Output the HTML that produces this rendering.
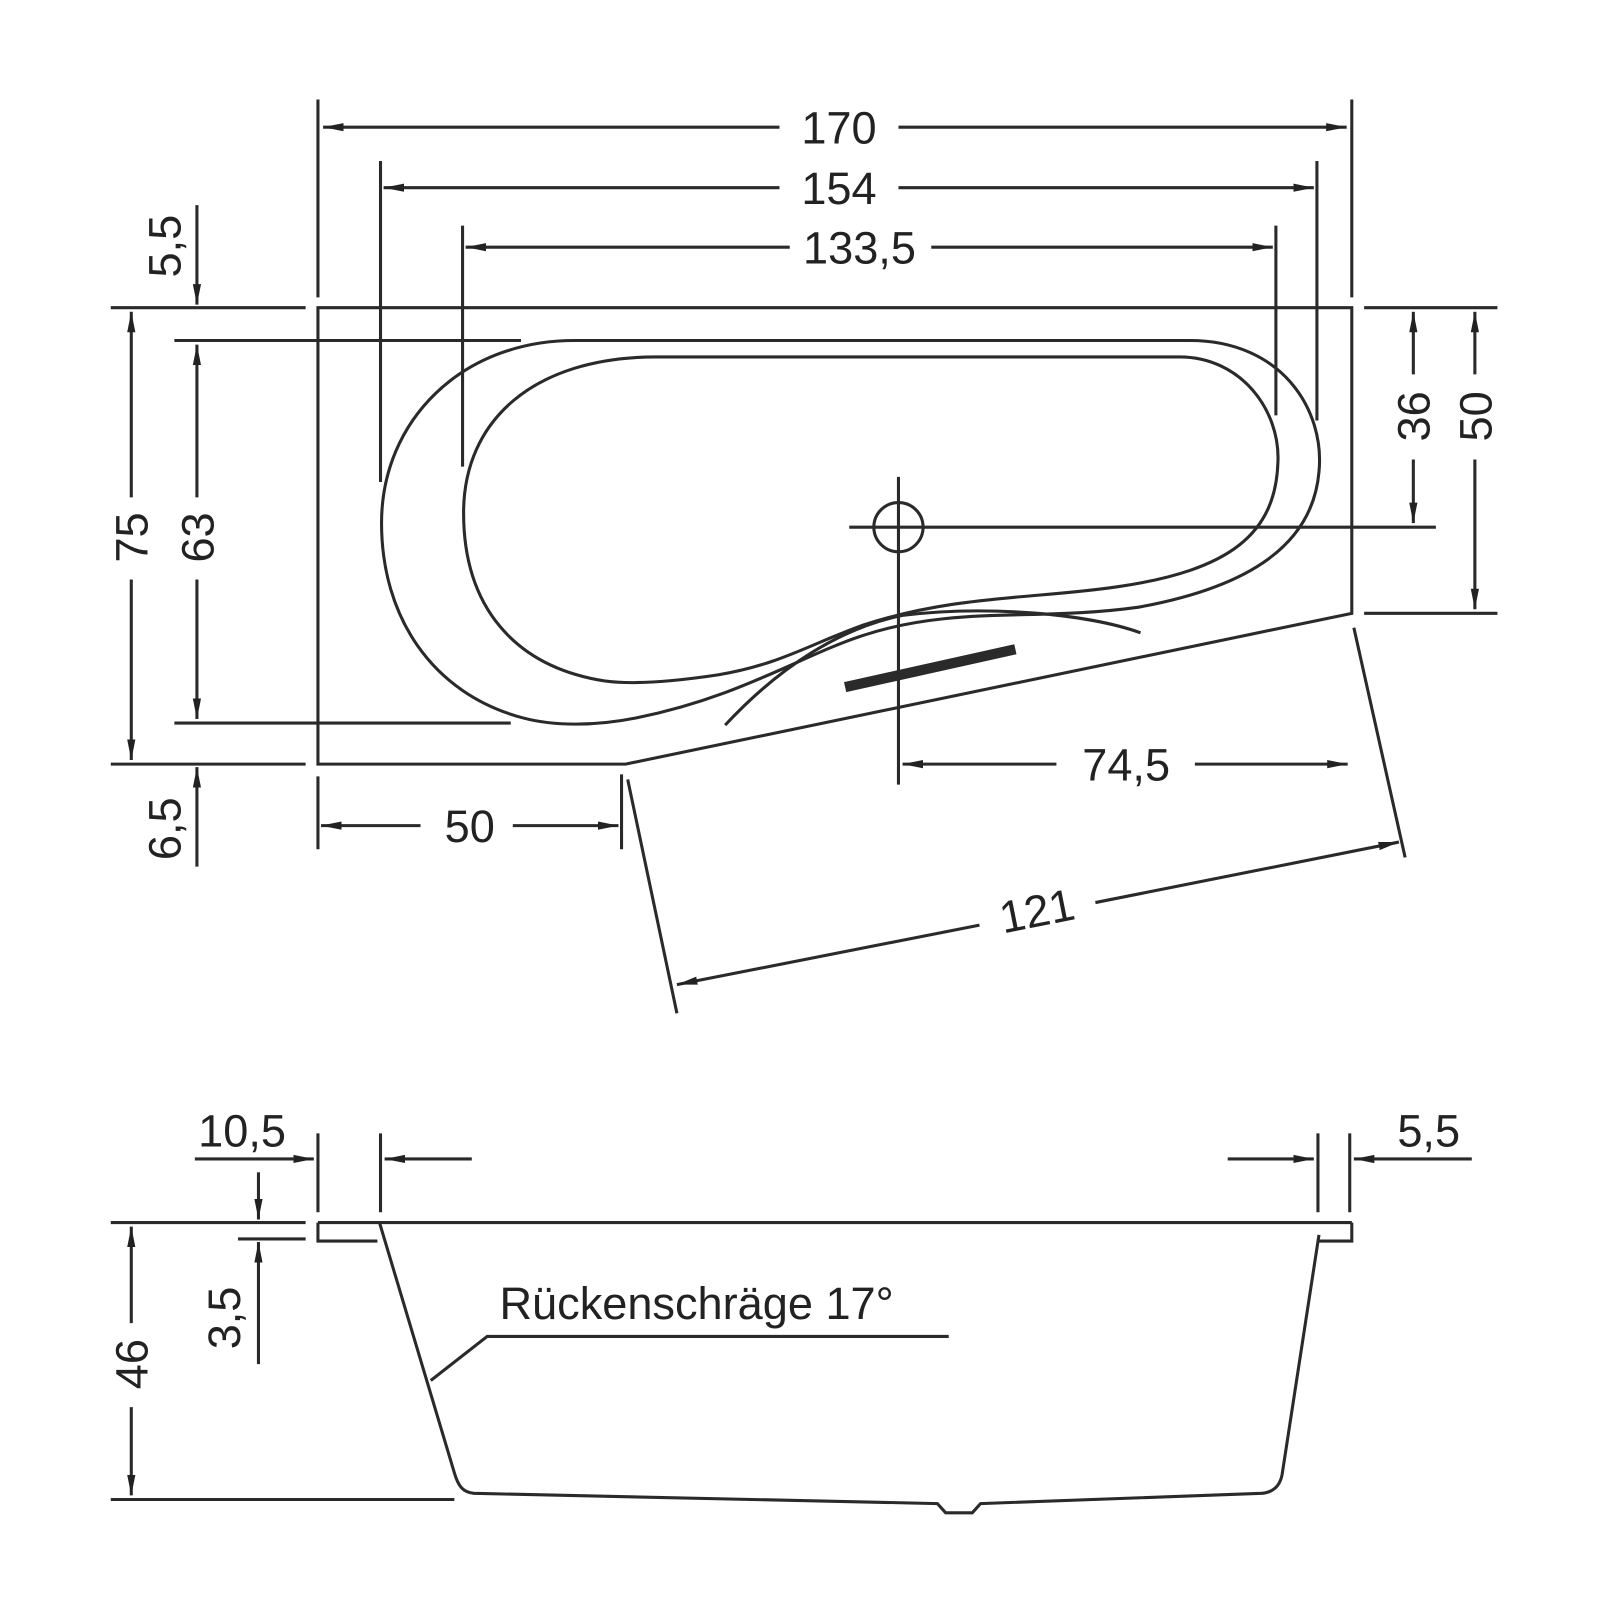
<!DOCTYPE html>
<html><head><meta charset="utf-8"><style>
html,body{margin:0;padding:0;background:#fff}
svg{display:block}
text{font-family:"Liberation Sans",sans-serif;font-size:44px;fill:#222}
</style></head><body>
<svg width="1600" height="1600" viewBox="0 0 1560 1560" xmlns="http://www.w3.org/2000/svg">
<defs>
<marker id="a" viewBox="0 0 20 10" refX="20" refY="5" markerWidth="20" markerHeight="10" markerUnits="userSpaceOnUse" orient="auto-start-reverse">
<path d="M0,1 L20,5 L0,9 Z" fill="#222"/></marker>
</defs>
<g stroke="#2a2a2a" stroke-width="3" fill="none">
<path d="M310,300 L1318,300 L1318,598 L610,745 L310,745 Z"/>
<path d="M560,332 L1160,332 C1250,332 1292,400 1286,460 C1280,530 1220,572 1110,592 C1010,606 930,590 840,620 C780,640 720,680 620,700 C580,708 540,708 510,700 C420,676 372,600 372,510 C372,410 450,332 560,332 Z"/>
<path d="M640,348 L1150,348 C1210,348 1248,400 1246,450 C1244,520 1200,556 1090,572 C1010,584 930,580 840,610 C790,628 760,648 700,658 C660,664 620,668 590,664 C500,650 452,590 452,500 C452,410 520,348 640,348 Z"/>
<path d="M707,707 C760,650 820,612 880,600 C960,590 1060,598 1112,617"/>
<line x1="824" y1="670" x2="990" y2="633" stroke-width="10"/>
<circle cx="876" cy="514" r="24"/>
<line x1="876" y1="465" x2="876" y2="765"/>
<line x1="828" y1="514" x2="1400" y2="514"/>
<line x1="310" y1="97" x2="310" y2="290"/>
<line x1="1318" y1="97" x2="1318" y2="290"/>
<line x1="371" y1="157" x2="371" y2="470"/>
<line x1="1284" y1="157" x2="1284" y2="410"/>
<line x1="451" y1="220" x2="451" y2="455"/>
<line x1="1244" y1="220" x2="1244" y2="405"/>
<line x1="108" y1="300" x2="298" y2="300"/>
<line x1="170" y1="332" x2="508" y2="332"/>
<line x1="170" y1="705" x2="498" y2="705"/>
<line x1="108" y1="745" x2="298" y2="745"/>
<line x1="1330" y1="300" x2="1460" y2="300"/>
<line x1="1330" y1="598" x2="1460" y2="598"/>
<line x1="310" y1="757" x2="310" y2="828"/>
<line x1="606" y1="755" x2="606" y2="828"/>
<line x1="612" y1="760" x2="660" y2="988"/>
<line x1="1320" y1="612" x2="1370" y2="836"/>
<line x1="315" y1="124" x2="760" y2="124" marker-start="url(#a)"/>
<line x1="876" y1="124" x2="1313" y2="124" marker-end="url(#a)"/>
<line x1="374" y1="183" x2="760" y2="183" marker-start="url(#a)"/>
<line x1="876" y1="183" x2="1281" y2="183" marker-end="url(#a)"/>
<line x1="454" y1="241" x2="770" y2="241" marker-start="url(#a)"/>
<line x1="908" y1="241" x2="1241" y2="241" marker-end="url(#a)"/>
<line x1="192" y1="200" x2="192" y2="297" marker-end="url(#a)"/>
<line x1="128" y1="304" x2="128" y2="485" marker-start="url(#a)"/>
<line x1="128" y1="565" x2="128" y2="741" marker-end="url(#a)"/>
<line x1="192" y1="336" x2="192" y2="485" marker-start="url(#a)"/>
<line x1="192" y1="565" x2="192" y2="701" marker-end="url(#a)"/>
<line x1="192" y1="845" x2="192" y2="748" marker-end="url(#a)"/>
<line x1="1378" y1="304" x2="1378" y2="365" marker-start="url(#a)"/>
<line x1="1378" y1="448" x2="1378" y2="510" marker-end="url(#a)"/>
<line x1="1438" y1="304" x2="1438" y2="365" marker-start="url(#a)"/>
<line x1="1438" y1="448" x2="1438" y2="594" marker-end="url(#a)"/>
<line x1="880" y1="745" x2="1030" y2="745" marker-start="url(#a)"/>
<line x1="1165" y1="745" x2="1314" y2="745" marker-end="url(#a)"/>
<line x1="313" y1="805" x2="410" y2="805" marker-start="url(#a)"/>
<line x1="500" y1="805" x2="603" y2="805" marker-end="url(#a)"/>
<line x1="660" y1="960" x2="955" y2="902" marker-start="url(#a)"/>
<line x1="1068" y1="880" x2="1364" y2="821" marker-end="url(#a)"/>
<line x1="310" y1="1192" x2="1318" y2="1192"/>
<path d="M310,1192 L310,1210 L368,1210"/>
<path d="M1284,1210 L1318,1210 L1318,1192"/>
<path d="M370,1192 L443,1436 C447,1450 452,1455 462,1456 L914,1466 L922,1475 L948,1475 L956,1466 L1230,1456 C1242,1455 1248,1448 1250,1438 L1286,1204"/>
<path d="M420,1346 L475,1303 L925,1303"/>
<line x1="310" y1="1105" x2="310" y2="1182"/>
<line x1="371" y1="1105" x2="371" y2="1182"/>
<line x1="1285" y1="1105" x2="1285" y2="1182"/>
<line x1="1316" y1="1105" x2="1316" y2="1182"/>
<line x1="190" y1="1130" x2="306" y2="1130" marker-end="url(#a)"/>
<line x1="460" y1="1130" x2="375" y2="1130" marker-end="url(#a)"/>
<line x1="1197" y1="1130" x2="1281" y2="1130" marker-end="url(#a)"/>
<line x1="1435" y1="1130" x2="1320" y2="1130" marker-end="url(#a)"/>
<line x1="108" y1="1192" x2="298" y2="1192"/>
<line x1="232" y1="1208" x2="298" y2="1208"/>
<line x1="108" y1="1462" x2="443" y2="1462"/>
<line x1="252" y1="1143" x2="252" y2="1189" marker-end="url(#a)"/>
<line x1="252" y1="1330" x2="252" y2="1211" marker-end="url(#a)"/>
<line x1="128" y1="1196" x2="128" y2="1290" marker-start="url(#a)"/>
<line x1="128" y1="1372" x2="128" y2="1458" marker-end="url(#a)"/>
</g>
<g text-anchor="middle">
<text x="818" y="140">170</text>
<text x="818" y="199">154</text>
<text x="838" y="257">133,5</text>
<text x="1098" y="761">74,5</text>
<text x="458" y="821">50</text>
<text transform="translate(176,240) rotate(-90)">5,5</text>
<text transform="translate(144,524) rotate(-90)">75</text>
<text transform="translate(208,524) rotate(-90)">63</text>
<text transform="translate(176,808) rotate(-90)">6,5</text>
<text transform="translate(1394,406) rotate(-90)">36</text>
<text transform="translate(1454,406) rotate(-90)">50</text>
<text transform="translate(1014,903) rotate(-11.3)">121</text>
<text x="236" y="1118">10,5</text>
<text x="1393" y="1118">5,5</text>
<text transform="translate(234,1285) rotate(-90)">3,5</text>
<text transform="translate(144,1330) rotate(-90)">46</text>
</g>
<text x="487" y="1286">Rückenschräge 17°</text>
</svg>
</body></html>
